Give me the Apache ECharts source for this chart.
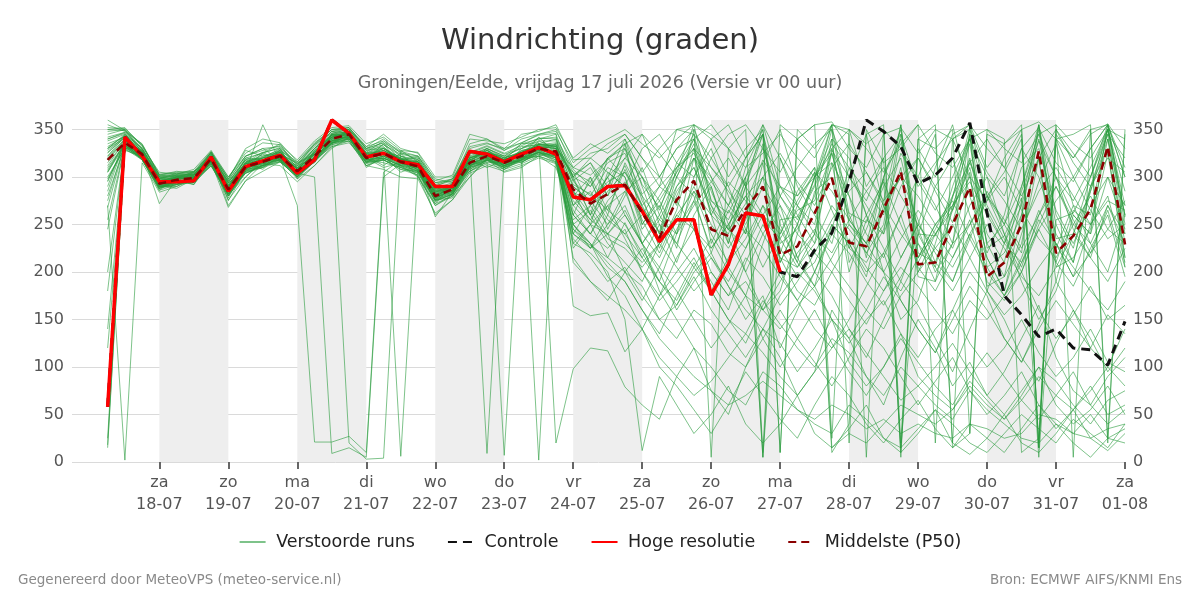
<!DOCTYPE html>
<html><head><meta charset="utf-8">
<script src="https://cdn.jsdelivr.net/npm/echarts@6/dist/echarts.min.js"></script>
<style>html,body{margin:0;padding:0;background:#fff}#c{width:1200px;height:600px}</style>
</head><body><div id="c"></div>
<script>
// forecast steps: every 6 h from vr 17-07 06:00 (hours relative to za 18-07 00:00)
const firstStepHour = -18;
const stepHours = 6;
const dayTickHours = [0,24,48,72,96,120,144,168,192,216,240,264,288,312,336];
const dayLabels = ['za\n18-07','zo\n19-07','ma\n20-07','di\n21-07','wo\n22-07','do\n23-07','vr\n24-07','za\n25-07','zo\n26-07','ma\n27-07','di\n28-07','wo\n29-07','do\n30-07','vr\n31-07','za\n01-08'];
const shadedDays = [[0,24],[48,72],[96,120],[144,168],[192,216],[240,264],[288,312]];
const yTicks = [0,50,100,150,200,250,300,350];

const hires = [58,342,322,295,295,296,321,285,311,317,323,304,318,360,346,321,325,316,313,290,290,327,324,316,324,331,324,279,276,290,291,264,232,255,255,176,208,262,259,200];
const control = [58,342,322,295,295,296,321,285,311,317,323,304,318,360,346,321,325,316,313,290,290,327,324,316,324,331,324,279,276,290,291,264,232,255,255,176,208,262,259,200,195,223,241,295,360,348,332,293,302,320,357,262,175,155,132,140,120,118,102,148];
const median = [318,336,324,293,297,299,319,287,311,316,322,306,322,340,345,320,325,316,311,280,287,315,322,315,322,330,327,287,272,282,292,262,236,276,296,245,238,266,290,218,227,262,299,231,227,266,306,208,210,250,289,195,210,250,327,220,238,266,332,229];

const members = [
[330,345,330,300,295,305,322,295,318,312,330,300,328,338,350,318,335,312,318,290,280,322,330,310,330,335,340, 295,280,310,300,245,270,225,300,330,280,240,315,350,290,260,230,300,345,270,215,250,310,355,280,220,260,330,300,240,210,285,340,230],
[300,330,318,286,300,296,312,280,306,355,316,310,315,345,340,325,318,320,300,272,292,306,318,320,315,326,318, 280,300,265,250,220,190,240,285,260,205,175,230,280,250,200,245,310,260,225,190,240,290,320,260,215,180,240,295,335,270,230,200,260],
[345,350,326,298,302,302,326,300,322,330,318,312,335,350,352,330,340,325,322,298,294,335,340,328,340,345,350, 310,325,330,345,320,290,350,355,340,300,330,350,10,340,320,355,345,5,350,330,300,345,20,355,330,310,345,15,350,325,300,345,320],
[285,338,320,290,292,300,316,276,300,318,328,298,318,336,348,310,322,305,312,258,284,318,310,318,325,332,322, 260,240,270,285,300,250,210,260,290,235,200,240,270,215,185,250,230,195,270,300,255,210,190,235,280,240,205,260,300,245,215,270,230],
[18,330,328,296,298,292,320,290,315,308,324,315,325,345,340,322,312,325,306,285,290,310,328,312,318,338,330, 250,230,205,190,160,135,175,210,180,150,125,165,200,170,140,120,150,185,220,170,140,115,160,200,175,130,105,145,190,160,120,100,140],
[355,348,335,302,304,306,318,296,310,325,335,308,330,348,346,328,330,318,320,292,298,328,325,322,335,340,345, 300,315,280,335,250,275,240,320,290,230,300,345,220,270,250,330,280,215,300,350,240,205,280,335,230,250,220,355,260,225,290,345,215],
[270,2,315,284,290,298,322,270,296,314,312,295,312,332,338,312,308,300,298,262,276,300,318,305,310,322,315, 240,225,250,270,230,200,160,190,215,185,150,175,120,160,200,175,140,110,150,190,165,130,95,140,180,150,110,85,125,160,130,95,120],
[320,340,322,292,301,300,314,288,320,318,320,270,21,21,27,10,305,318,314,280,288,320,326,316,328,330,335, 290,275,300,320,345,300,270,350,5,330,290,355,320,270,305,10,40,350,315,330,355,20,340,300,275,320,350,15,340,300,330,355,310],
[310,335,326,295,294,302,320,284,308,310,326,304,300,9,15,5,300,314,306,276,290,312,320,310,320,322,328, 280,255,240,265,230,180,150,120,100,75,60,95,80,55,40,30,60,45,25,15,35,55,40,20,10,30,50,35,20,45,30,15,40],
[335,342,318,298,296,298,326,292,314,324,318,310,330,342,20,3,4,328,316,286,284,316,330,322,322,342,325, 305,270,300,340,290,240,285,310,265,245,310,350,235,265,275,325,255,230,300,340,215,250,270,320,240,210,290,355,225,270,260,350,270],
[140,332,325,288,300,296,318,278,312,320,330,302,326,338,342,318,320,6,308,278,292,308,318,314,318,326,322, 250,265,235,225,205,230,260,245,215,190,225,270,245,210,185,215,250,230,200,180,215,250,275,235,200,175,210,255,230,195,220,265,205],
[325,344,328,300,302,304,316,294,306,316,322,312,320,346,350,326,338,322,318,288,286,325,9,320,332,334,336, 300,290,320,330,300,265,315,345,275,255,295,5,320,280,300,355,350,290,320,10,330,300,345,355,280,305,340,20,345,320,350,355,300],
[305,334,320,286,292,300,320,280,315,326,316,300,316,336,338,315,318,308,302,270,282,306,316,7,315,328,320, 270,250,240,230,210,230,205,180,200,175,190,160,140,165,185,150,125,150,170,135,110,140,160,125,100,120,150,115,90,110,140,105,95],
[290,339,326,296,296,294,324,286,304,312,328,306,328,344,344,324,325,320,310,284,292,320,326,320,326,2,325, 285,250,305,290,230,260,300,280,220,265,240,335,250,210,285,300,200,255,240,345,230,190,270,300,215,180,260,320,190,260,240,355,250],
[340,346,324,300,298,306,318,292,318,320,324,314,324,340,348,328,332,314,316,282,290,326,320,318,335,336,20, 98,120,117,79,60,45,90,120,75,50,100,140,110,70,95,160,130,90,60,110,150,120,80,105,70,95,130,165,110,75,60,90,110],
[315,337,328,292,300,298,322,275,308,318,320,305,318,342,342,315,328,318,314,278,294,315,324,312,328,332,330, 164,154,157,116,140,175,200,225,190,160,210,250,215,180,165,200,235,205,180,215,250,220,190,240,205,175,215,265,230,195,250,280,210],
[25,328,322,290,290,300,314,286,312,314,318,302,322,335,345,318,315,310,304,276,278,310,315,316,316,324,318, 275,255,285,305,270,235,290,320,260,295,275,240,210,250,300,315,280,240,215,260,300,270,230,250,285,250,310,330,265,230,270,300,245],
[350,352,332,305,303,308,328,300,325,336,334,318,338,352,354,335,342,328,326,300,300,340,338,335,342,350,352, 320,335,325,340,305,330,350,345,320,345,355,330,305,340,355,358,330,310,345,352,325,350,340,355,310,335,350,358,340,320,345,356,330],
[275,336,318,288,296,292,316,282,300,316,318,298,312,330,342,312,320,312,300,270,280,300,320,308,318,322,310, 260,240,225,245,200,170,190,215,180,150,135,170,145,120,100,130,115,90,70,100,80,60,45,75,55,40,25,20,40,30,50,25,35],
[330,341,326,272,298,302,318,290,316,320,322,306,320,344,346,326,326,322,312,282,286,318,328,318,322,334,332, 292,282,265,308,268,242,310,330,285,244,272,318,290,260,230,328,300,270,240,290,320,285,252,318,265,230,285,338,300,260,240,300,270],
[360,349,330,302,300,305,325,298,328,322,328,316,334,346,350,330,336,318,322,294,296,330,335,330,336,345,348, 315,330,340,350,335,320,340,355,345,330,350,10,355,340,355,25,350,335,350,20,340,330,350,30,345,335,355,15,340,345,355,25,350],
[255,333,322,290,296,296,312,282,306,310,322,300,318,338,340,320,310,315,308,275,282,312,318,308,320,326,316, 245,225,260,240,215,250,230,205,180,215,245,225,195,170,200,240,220,190,165,195,230,205,180,215,250,225,195,175,205,240,215,190,225],
[322,343,325,294,302,300,322,288,312,318,326,308,326,342,348,322,330,320,316,286,292,316,330,320,326,330,334, 298,260,320,300,250,280,310,340,270,230,290,315,210,250,300,325,260,220,250,355,200,240,265,310,230,195,275,350,210,265,250,340,260],
[298,331,320,291,288,298,316,268,296,306,316,300,318,332,336,316,318,310,302,260,276,304,312,306,312,320,314, 235,215,190,205,175,150,165,195,160,135,110,140,125,95,120,150,105,80,100,135,90,70,55,85,65,45,70,100,60,40,55,80,50],
[338,345,330,298,304,302,324,296,322,330,332,312,330,348,352,330,336,326,318,290,298,325,332,324,330,340,342, 308,290,315,325,282,300,330,340,300,270,320,345,280,310,335,350,300,275,320,345,290,315,340,350,305,280,330,352,315,295,330,355,300],
[120,329,320,292,296,296,316,284,310,312,320,304,322,336,342,316,322,312,310,278,285,312,322,312,318,330,324, 255,270,240,260,230,205,245,275,225,250,280,255,235,205,230,270,245,220,200,235,265,240,215,250,280,255,225,260,290,250,230,270,240],
[312,338,326,294,298,298,320,288,314,318,324,306,324,340,346,320,326,316,312,280,288,316,324,316,322,330,328, 270,295,260,315,280,225,265,330,230,270,250,290,260,215,240,340,210,245,290,320,245,200,230,345,180,230,270,340,250,210,290,330,205],
[348,350,334,302,306,304,326,298,330,340,336,316,336,350,350,332,345,330,325,296,302,345,340,330,345,348,355, 318,320,335,345,320,300,330,350,310,290,320,355,290,280,310,15,30,20,40,60,50,40,55,80,60,45,65,90,70,55,75,100,80],
[180,334,318,290,294,294,312,284,304,312,316,302,316,334,340,314,318,308,306,274,282,308,318,310,316,324,320, 230,250,215,200,225,190,165,200,220,185,160,140,175,200,180,150,130,160,195,170,140,115,150,185,160,130,105,140,170,145,120,155,135],
[328,342,324,296,300,302,320,290,312,320,326,308,324,342,344,322,330,318,314,284,288,320,326,318,325,332,330, 302,315,290,320,300,275,305,330,310,285,260,300,325,295,270,310,335,305,275,300,320,290,265,315,340,310,280,320,350,315,290,320,305],
[295,337,322,288,294,298,314,282,308,316,320,304,320,338,342,318,322,315,308,278,284,312,320,312,320,326,322, 265,240,275,295,255,220,260,285,240,210,235,270,225,195,210,250,230,200,220,260,205,180,215,255,190,170,200,245,210,185,225,260,195],
[342,347,330,300,302,303,324,294,318,326,330,310,330,345,348,325,334,322,316,288,294,324,330,322,330,338,338, 300,260,230,210,190,230,280,320,300,250,200,160,180,240,300,340,320,260,200,150,170,230,290,340,300,240,190,150,180,240,300,350,260],
[305,336,322,292,298,300,318,286,310,314,322,306,320,340,344,320,324,316,310,280,286,314,322,314,322,328,326, 250,230,210,190,160,130,110,90,75,60,70,85,70,55,45,60,50,35,45,30,40,30,25,40,35,25,30,50,45,30,25,35,40],
[332,343,328,298,300,300,322,290,316,322,326,308,326,344,346,324,328,318,314,284,290,320,328,318,326,334,334, 296,310,280,312,270,290,310,325,295,270,300,330,280,255,290,335,310,285,260,325,295,265,300,340,280,250,290,345,300,275,310,350,285],
[245,333,318,288,292,294,312,280,304,310,316,300,316,334,338,312,318,310,304,272,280,306,314,308,314,322,316, 240,228,215,252,215,190,170,205,235,200,175,160,190,220,245,210,185,160,140,175,200,225,250,215,180,155,175,205,230,205,180,160,190],
[318,339,326,294,298,300,320,288,312,318,324,306,324,342,345,322,326,318,312,282,288,318,324,316,324,332,330, 310,302,318,335,292,268,305,355,275,262,300,5,255,258,292,355,262,252,298,15,240,238,278,352,225,238,278,5,255,262,300,355,258],
[352,351,334,303,305,306,327,297,322,328,333,314,334,350,352,332,338,327,322,294,298,332,336,328,336,344,346, 210,190,175,160,140,110,90,70,85,110,135,115,90,70,95,120,140,115,90,65,80,100,125,95,70,50,75,100,85,60,40,65,75],
[308,335,320,290,294,296,316,284,308,312,318,302,318,336,340,316,320,312,306,276,282,310,318,310,318,326,320, 284,274,295,305,280,255,240,270,295,320,290,260,240,275,305,285,255,230,265,300,280,250,225,270,300,275,245,285,310,280,250,275,265],
[326,341,326,296,300,302,322,290,314,320,324,308,324,342,346,322,328,318,314,284,290,318,326,318,326,334,332, 270,285,255,240,260,290,275,245,225,250,280,300,270,240,220,255,285,305,270,240,215,240,270,295,260,230,210,245,275,300,265,235,250],
[15,331,320,290,292,296,314,282,306,312,318,302,318,336,340,318,320,312,306,276,284,312,318,312,318,326,322, 230,220,200,150,12,90,60,30,50,80,40,20,40,70,30,15,35,60,25,10,30,55,20,8,25,50,20,10,30,55,25,12,30],
[322,340,327,294,300,298,320,290,314,316,326,308,326,344,347,324,330,318,316,286,290,320,326,318,326,334,332, 260,300,245,280,310,260,230,275,320,290,245,205,240,285,310,265,225,260,295,250,210,245,280,315,270,235,200,250,290,255,220,245,275],
[296,334,320,292,294,300,316,285,310,314,318,304,320,336,344,318,322,314,308,278,286,314,320,312,320,328,324, 225,250,270,235,200,175,215,245,200,175,215,195,165,190,220,200,170,145,180,205,185,160,135,170,150,175,200,160,130,155,185,150,165],
[340,347,329,299,301,303,323,292,315,321,327,310,327,345,348,325,331,320,315,287,292,321,328,320,327,335,333, 300,320,305,290,330,345,315,300,340,355,320,345,10,350,330,355,20,345,355,5,340,355,15,30,350,340,10,25,355,5,350,20,345],
[268,335,322,291,296,297,318,286,309,315,321,305,321,338,343,319,324,315,310,279,286,313,321,314,320,329,325, 250,225,240,200,170,205,180,150,120,145,175,130,100,130,160,125,95,70,100,130,105,80,60,90,115,90,65,45,70,95,60,40,55],
[330,344,326,297,299,303,321,289,314,318,323,309,324,343,346,323,328,319,314,283,289,318,325,318,325,333,330, 285,260,290,330,275,240,300,335,260,240,290,345,230,245,280,350,250,225,275,355,220,210,265,345,205,220,260,355,235,240,285,350,240],
[306,337,322,290,295,299,317,285,309,315,320,303,321,339,343,320,323,315,309,279,285,314,321,313,321,329,325, 240,270,300,260,230,255,290,310,270,245,225,260,290,270,240,220,255,285,310,280,250,225,205,240,275,300,265,235,215,250,280,245,230],
[350,349,333,301,303,305,326,294,320,325,331,313,332,348,350,329,334,324,320,291,296,326,333,325,333,341,340, 305,295,320,335,345,325,300,340,355,330,310,325,345,320,300,330,350,330,305,335,355,325,310,340,350,330,315,345,355,335,320,350,340],
[200,333,321,291,294,296,317,283,307,313,319,303,319,337,343,317,322,313,307,277,283,311,319,311,319,327,323, 215,190,170,200,185,150,130,160,145,115,100,130,160,130,105,80,110,140,120,90,60,85,110,75,50,70,95,60,35,55,80,50,60],
[318,339,323,295,297,301,319,288,312,317,322,306,323,341,345,321,326,316,312,281,288,316,323,316,323,331,327, 290,275,250,285,240,215,255,290,250,225,255,300,215,205,240,315,225,210,245,310,195,190,230,305,185,195,230,320,205,215,245,325,215],
[280,332,319,289,293,295,315,281,305,311,317,301,317,335,341,315,320,311,305,275,282,310,317,310,317,325,321, 245,230,195,175,140,100,80,55,30,60,95,70,45,25,60,90,70,40,20,45,65,35,15,40,25,10,35,60,40,20,5,25,20]
];

const stepTime = i => firstStepHour + stepHours * i;
const toPts = arr => arr.map((v, i) => [stepTime(i), v]);

const FONT = 'DejaVu Sans';
const GREEN = 'rgba(40,155,60,0.6)';
const series = [];
series.push({
  name: 'bands', type: 'line', data: [], silent: true, z: 0,
  markArea: { silent: true, itemStyle: { color: '#eeeeee' },
    data: shadedDays.map(d => [{ xAxis: d[0] }, { xAxis: d[1] }]) }
});
members.forEach(m => series.push({
  name: 'Verstoorde runs', type: 'line', data: toPts(m), showSymbol: false, symbol: 'none',
  silent: true, z: 2,
  lineStyle: { width: 1, color: GREEN }, itemStyle: { color: GREEN }
}));
series.push({ name: 'Controle', type: 'line', data: toPts(control), symbol: 'none', z: 3,
  lineStyle: { width: 3, color: '#111', type: [9, 6] }, itemStyle: { color: '#111' } });
series.push({ name: 'Hoge resolutie', type: 'line', data: toPts(hires), symbol: 'none', z: 4,
  lineStyle: { width: 3.5, color: '#ff0000' }, itemStyle: { color: '#ff0000' } });
series.push({ name: 'Middelste (P50)', type: 'line', data: toPts(median), symbol: 'none', z: 5,
  lineStyle: { width: 2.6, color: '#8b0000', type: [8, 5] }, itemStyle: { color: '#8b0000' } });

const yLabel = { customValues: yTicks, color: '#555', fontSize: 16, fontFamily: FONT, margin: 8 };

const chart = echarts.init(document.getElementById('c'), null, { renderer: 'canvas' });
chart.setOption({
  animation: false,
  backgroundColor: '#fff',
  grid: { left: 72, right: 75, top: 120, bottom: 138, containLabel: false },
  xAxis: {
    type: 'value', min: -30.4, max: 336,
    splitLine: { show: false }, axisLine: { show: false },
    axisTick: { show: true, customValues: dayTickHours, length: 7, lineStyle: { color: '#666', width: 2 } },
    axisLabel: { customValues: dayTickHours, formatter: v => dayLabels[Math.round(v / 24)],
      color: '#555', fontSize: 16, fontFamily: FONT, lineHeight: 22, margin: 10 }
  },
  yAxis: [
    { type: 'value', min: 0, max: 360, interval: 50, position: 'left',
      axisLine: { show: false }, axisTick: { show: false }, axisLabel: yLabel,
      splitLine: { show: true, showMaxLine: false, lineStyle: { color: '#dadada', width: 1 } } },
    { type: 'value', min: 0, max: 360, interval: 50, position: 'right',
      axisLine: { show: false }, axisTick: { show: false }, axisLabel: yLabel,
      splitLine: { show: false } }
  ],
  legend: {
    data: ['Verstoorde runs', 'Controle', 'Hoge resolutie', 'Middelste (P50)'],
    left: 'center', top: 528, itemWidth: 26, itemHeight: 14, itemGap: 32,
    selectedMode: false,
    itemStyle: { color: 'rgba(0,0,0,0)', borderColor: 'rgba(0,0,0,0)', borderWidth: 0, opacity: 0 },
    formatter: name => ' ' + name,
    textStyle: { color: '#222', fontSize: 17.5, fontFamily: FONT }
  },
  graphic: [
    { type: 'text', x: 600, y: 41, style: { text: 'Windrichting (graden)', fill: '#333', font: '29px "DejaVu Sans"', align: 'center', verticalAlign: 'middle' } },
    { type: 'text', x: 600, y: 83, style: { text: 'Groningen/Eelde, vrijdag 17 juli 2026 (Versie vr 00 uur)', fill: '#666', font: '17.5px "DejaVu Sans"', align: 'center', verticalAlign: 'middle' } },
    { type: 'text', x: 18, y: 580, style: { text: 'Gegenereerd door MeteoVPS (meteo-service.nl)', fill: '#8a8a8a', font: '13.5px "DejaVu Sans"', align: 'left', verticalAlign: 'middle' } },
    { type: 'text', x: 1182, y: 580, style: { text: 'Bron: ECMWF AIFS/KNMI Ens', fill: '#8a8a8a', font: '13.5px "DejaVu Sans"', align: 'right', verticalAlign: 'middle' } }
  ],
  series: series
});
</script></body></html>
